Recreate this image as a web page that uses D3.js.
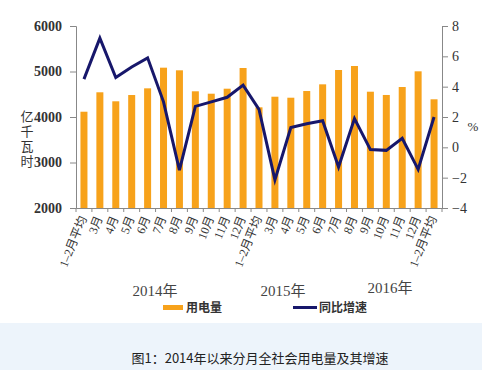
<!DOCTYPE html>
<html><head><meta charset="utf-8">
<script src="https://cdn.jsdelivr.net/npm/d3@7"></script>
<style>body{margin:0;background:#fff;}svg{display:block;}</style>
</head><body>
<svg id="c" width="482" height="370"></svg>
<script>
const categories = ["1–2月平均","3月","4月","5月","6月","7月","8月","9月","10月","11月","12月",
  "1–2月平均","3月","4月","5月","6月","7月","8月","9月","10月","11月","12月","1–2月平均"];
const usage = [4116,4543,4345,4483,4630,5084,5026,4565,4512,4622,5077,
  4213,4446,4424,4571,4718,5033,5121,4556,4484,4659,5004,4389];
const growth = [4.5,7.2,4.6,5.3,5.9,3.0,-1.5,2.7,3.0,3.3,4.1,
  2.5,-2.15,1.3,1.55,1.75,-1.3,1.9,-0.15,-0.2,0.6,-1.45,2.0];
const leftTicks = [2000,3000,4000,5000,6000];
const rightTicks = [-4,-2,0,2,4,6,8];
const years = [{label:"2014年",x:155,y:296},{label:"2015年",x:283,y:296},{label:"2016年",x:390,y:293}];

const svg = d3.select("#c");
const L=76,R=442,T=26,B=208;
const xb = d3.scaleBand().domain(d3.range(categories.length)).range([L,R]);
const yL = d3.scaleLinear().domain([2000,6000]).range([B,T]);
const yR = d3.scaleLinear().domain([-4,8]).range([B,T]);
const serif = "'Liberation Serif','DejaVu Serif','Noto Sans CJK SC',serif";

// caption band
svg.append("rect").attr("x",0).attr("y",323).attr("width",482).attr("height",47).attr("fill","#edf4fb");
svg.append("text").attr("x",260).attr("y",363).attr("text-anchor","middle")
  .style("font-family","'Noto Sans CJK SC',sans-serif").style("font-size","13px").attr("fill","#222")
  .text("图1：2014年以来分月全社会用电量及其增速");

// bars
svg.append("g").selectAll("rect").data(usage).join("rect")
  .attr("x",(d,i)=>xb(i)+xb.bandwidth()/2-3.5).attr("width",7)
  .attr("y",d=>yL(d)).attr("height",d=>B-yL(d)).attr("fill","#f7a21b");

// axes
const axCol="#888";
const gl = svg.append("g").attr("transform",`translate(${L},0)`)
  .call(d3.axisLeft(yL).tickValues(leftTicks).tickSize(6).tickFormat(d3.format("d")));
const gr = svg.append("g").attr("transform",`translate(${R},0)`)
  .call(d3.axisRight(yR).tickValues(rightTicks).tickSize(6).tickFormat(d=>d<0?"−"+Math.abs(d):d));
const gb = svg.append("g").attr("transform",`translate(0,${B})`)
  .call(d3.axisBottom(xb).tickSize(0).tickFormat(""));
[gl,gr,gb].forEach(g=>{g.attr("font-family",null).attr("font-size",null);g.select(".domain").attr("stroke",axCol);g.selectAll(".tick line").attr("stroke",axCol);});
gl.selectAll(".tick text").style("font-family",serif).style("font-size","14px").style("font-weight","bold").attr("fill","#333").attr("x",-14);
gr.selectAll(".tick text").style("font-family",serif).style("font-size","14px").attr("fill","#333").attr("x",10);
// bottom band-boundary ticks
svg.append("g").selectAll("line").data(d3.range(categories.length+1)).join("line")
  .attr("x1",i=>L+i*xb.step()).attr("x2",i=>L+i*xb.step()).attr("y1",B).attr("y2",B+4).attr("stroke",axCol);

// line
svg.append("path").datum(growth).attr("fill","none").attr("stroke","#17176b").attr("stroke-width",3)
  .attr("stroke-linejoin","miter")
  .attr("d",d3.line().x((d,i)=>xb(i)+xb.bandwidth()/2).y(d=>yR(d)));

// x labels
svg.append("g").selectAll("text").data(categories).join("text")
  .attr("transform",(d,i)=>`translate(${xb(i)+xb.bandwidth()/2+3},${B+10}) rotate(-68)`)
  .attr("text-anchor","end").style("font-family",serif).style("font-size","12px").attr("fill","#333")
  .text(d=>d);

// years
svg.append("g").selectAll("text").data(years).join("text")
  .attr("x",d=>d.x).attr("y",d=>d.y).attr("text-anchor","middle")
  .style("font-family",serif).style("font-size","15px").attr("fill","#444").text(d=>d.label);

// left unit vertical
const unit = ["亿","千","瓦","时"];
svg.append("g").selectAll("text").data(unit).join("text")
  .attr("x",27).attr("y",(d,i)=>121+i*15).attr("text-anchor","middle")
  .style("font-family",serif).style("font-size","13px").attr("fill","#333").text(d=>d);
svg.append("text").attr("x",473).attr("y",131).attr("text-anchor","middle")
  .style("font-family",serif).style("font-size","13px").attr("fill","#333").text("%");

// legend
svg.append("rect").attr("x",163).attr("y",305).attr("width",20).attr("height",5).attr("fill","#f7a21b");
svg.append("text").attr("x",186).attr("y",312).style("font-family","'Noto Sans CJK SC',sans-serif")
  .style("font-size","12px").style("font-weight","bold").attr("fill","#333").text("用电量");
svg.append("line").attr("x1",293).attr("x2",317).attr("y1",307.5).attr("y2",307.5).attr("stroke","#17176b").attr("stroke-width",3);
svg.append("text").attr("x",319).attr("y",312).style("font-family","'Noto Sans CJK SC',sans-serif")
  .style("font-size","12px").style("font-weight","bold").attr("fill","#333").text("同比增速");
</script>
</body></html>
